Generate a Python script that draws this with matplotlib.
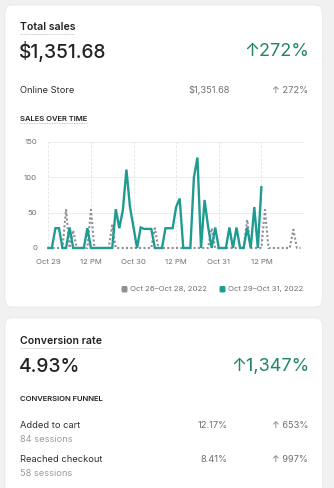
import matplotlib
matplotlib.use("Agg")
import matplotlib.pyplot as plt
import numpy as np
from matplotlib.patches import FancyBboxPatch
from matplotlib.lines import Line2D

# hourly sales, Oct 29-31 2022 (current) and Oct 26-28 (previous)
current = [0, 0, 28, 28, 0, 0, 29, 0, 0, 0, 0, 28, 0, 0, 0, 0, 0, 0, 0, 55,
           28, 54, 111, 58, 29, 0, 29, 27, 27, 27, 0, 0, 0, 28, 28, 28, 58, 70, 0, 0,
           0, 100, 128, 0, 68, 30, 0, 29, 0, 0, 0, 29, 0, 29, 0, 0, 29, 0, 58, 0,
           86]
previous = [0, 0, 0, 0, 0, 54, 0, 25, 0, 0, 0, 0, 54, 0, 0, 0, 0, 0, 32, 0,
            0, 0, 0, 0, 0, 0, 0, 0, 0, 0, 28, 0, 0, 0, 0, 0, 0, 0, 0, 0,
            0, 0, 0, 0, 0, 0, 28, 0, 0, 0, 0, 0, 0, 0, 0, 0, 40, 0, 0, 0,
            0, 54, 0, 0, 0, 0, 0, 0, 0, 26, 0, 0]
tick_hours = [0, 12, 24, 36, 48, 60]
tick_labels = ["Oct 29", "12 PM", "Oct 30", "12 PM", "Oct 31", "12 PM"]
legend_labels = ["Oct 26\u2013Oct 28, 2022", "Oct 29\u2013Oct 31, 2022"]

W, H = 334, 488
TEAL = "#1f9b91"
GREY = "#8c9196"
DARK = "#202223"
MUTED = "#6d7175"
GREEN = "#23875f"
FONT = ["Inter", "DejaVu Sans"]
plt.rcParams["font.family"] = FONT

fig = plt.figure(figsize=(W / 100, H / 100), dpi=100)
fig.patch.set_facecolor("#f1f1f1")


def fx(x):
    return x / W


def fy(y):
    return 1 - y / H


def txt(x, y, s, size, color=DARK, ha="left", weight="normal"):
    return fig.text(fx(x), fy(y), s, fontsize=size, color=color, ha=ha,
                    va="center", fontweight=weight)


# cards
for top, bot in [(5, 307), (318, 520)]:
    fig.patches.append(FancyBboxPatch((fx(5), fy(bot)), fx(322.5) - fx(5), fy(top) - fy(bot),
                                      boxstyle="round,pad=0,rounding_size=0.018",
                                      transform=fig.transFigure, facecolor="white",
                                      edgecolor="#e6e6e6", linewidth=0.5, zorder=-5))

SMALL = 6.7
underline = []
underline.append(txt(19.5, 27.5, "Total sales", 7.6, weight="semibold"))
txt(19, 52, "$1,351.68", 13.8, weight="medium")
txt(309, 52, "\u2191272%", 13, color=GREEN, ha="right")
txt(20, 90.5, "Online Store", SMALL, color="#303030")
txt(230, 90.5, "$1,351.68", SMALL, color=MUTED, ha="right")
txt(308, 90.5, "\u2191 272%", SMALL, color=MUTED, ha="right")
underline.append(txt(20, 119, "SALES OVER TIME", 5.5, weight="semibold"))

underline.append(txt(19.5, 341.5, "Conversion rate", 7.6, weight="semibold"))
txt(19, 367, "4.93%", 13.8, weight="medium")
txt(309, 367, "\u21911,347%", 13, color=GREEN, ha="right")
txt(20, 399, "CONVERSION FUNNEL", 5.5, weight="semibold")
txt(20, 426, "Added to cart", SMALL, color="#303030")
txt(20, 439.5, "84 sessions", SMALL, color="#9a9da0")
txt(227.5, 426, "12.17%", SMALL, color=MUTED, ha="right")
txt(308, 426, "\u2191 653%", SMALL, color=MUTED, ha="right")
txt(20, 460, "Reached checkout", SMALL, color="#303030")
txt(20, 473, "58 sessions", SMALL, color="#9a9da0")
txt(227.5, 460, "8.41%", SMALL, color=MUTED, ha="right")
txt(308, 460, "\u2191 997%", SMALL, color=MUTED, ha="right")

# chart
ax = fig.add_axes([fx(48.3), fy(248), fx(304) - fx(48.3), fy(142) - fy(248)])
ax.set_zorder(5)
ax.patch.set_alpha(0)
hours_cur = np.arange(len(current))
hours_prev = np.arange(len(previous))
ax.plot(hours_prev, previous, color=GREY, linestyle=(0, (1, 1.1)), linewidth=1.5, clip_on=False)
ax.plot(hours_cur, current, color=TEAL, linewidth=1.7, clip_on=False, solid_joinstyle="miter")
ax.set_xlim(0, 72)
ax.set_ylim(0, 150)
ax.set_yticks([0, 50, 100, 150])
ax.set_xticks(tick_hours)
ax.set_xticklabels(tick_labels)
ax.tick_params(length=0, labelsize=5.6, labelcolor=MUTED)
ax.tick_params(axis="y", pad=8)
ax.tick_params(axis="x", pad=8)
for s in ax.spines.values():
    s.set_visible(False)
for t in tick_hours:
    ax.axvline(t, color="#e2e2e2", linewidth=0.6, linestyle=(0, (3, 2)), zorder=0)
for v in [50, 100, 150]:
    ax.axhline(v, color="#ececec", linewidth=0.7, zorder=0)

# legend
lx = 121.5
for lab, col in zip(legend_labels, [GREY, TEAL]):
    fig.patches.append(FancyBboxPatch((fx(lx), fy(292.5)), fx(6), fy(286) - fy(292.5),
                                      boxstyle="round,pad=0,rounding_size=0.004",
                                      transform=fig.transFigure, facecolor=col, edgecolor="none"))
    t = txt(lx + 9, 289, lab, 5.6, color=MUTED)
    lx += 98

# dotted underlines under the headings
fig.canvas.draw()
r = fig.canvas.get_renderer()
for t in underline:
    bb = t.get_window_extent(r)
    yb = bb.y0 - 1
    fig.add_artist(Line2D([bb.x0 / W, bb.x1 / W], [yb / H, yb / H], transform=fig.transFigure,
                          color="#b5b5b5", linewidth=0.6, linestyle=(0, (1, 1))))

fig.savefig("out.png", dpi=100, facecolor=fig.get_facecolor())
